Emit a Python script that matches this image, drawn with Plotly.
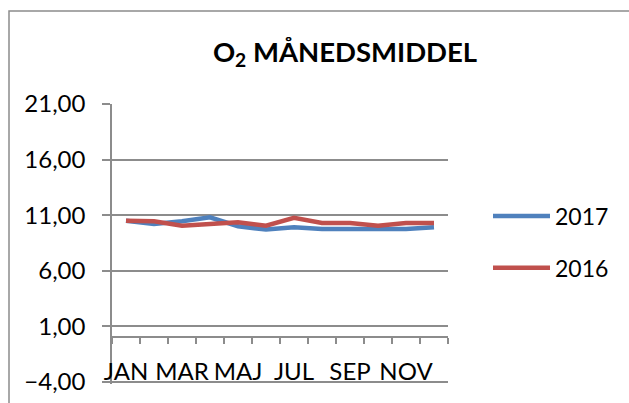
import plotly.graph_objects as go

months = ["JAN", "FEB", "MAR", "APR", "MAJ", "JUN", "JUL", "AUG", "SEP", "OKT", "NOV", "DEC"]
o2_2017 = [10.5, 10.2, 10.45, 10.8, 10.0, 9.7, 9.9, 9.75, 9.75, 9.7, 9.75, 9.9]
o2_2016 = [10.5, 10.45, 10.05, 10.25, 10.35, 10.05, 10.75, 10.3, 10.3, 10.05, 10.3, 10.3]
y_ticks = [-4, 1, 6, 11, 16, 21]

x_idx = list(range(len(months)))
FONT = "Lato, 'Open Sans', sans-serif"
GRAY = "#8c8c8c"

fig = go.Figure()
fig.add_trace(go.Scatter(x=x_idx, y=o2_2017, mode="lines", name="2017",
                         line=dict(color="#4F81BD", width=4.5), legendgroup="a"))
fig.add_trace(go.Scatter(x=x_idx, y=o2_2016, mode="lines", name="2016",
                         line=dict(color="#C0504D", width=4.5), legendgroup="b"))

y_lo, y_hi = y_ticks[0] - 0.2, y_ticks[-1]
fig.update_layout(
    width=629, height=403,
    margin=dict(l=112, r=181, t=104, b=19, autoexpand=False),
    paper_bgcolor="white", plot_bgcolor="white",
    separators=",.",
    font=dict(family=FONT, size=24, color="black"),
    title=dict(text="<b>O<sub>2</sub> MÅNEDSMIDDEL</b>", x=345 / 629, xanchor="center",
               y=1 - 52 / 403, yanchor="middle", font=dict(size=27.5, family=FONT)),
    xaxis=dict(range=[-0.5, len(months) - 0.5], tickmode="array",
               tickvals=x_idx[::2], ticktext=months[::2], ticks="",
               showgrid=False, zeroline=False, showline=True, linecolor=GRAY, linewidth=1.5,
               anchor="free", position=(0 - y_lo) / (y_hi - y_lo), automargin=False,
               ticklabelstandoff=13,
               minor=dict(tickmode="linear", tick0=-0.5, dtick=1, ticks="outside",
                          ticklen=6, tickcolor=GRAY, tickwidth=1.5, showgrid=False),
               fixedrange=True),
    yaxis=dict(range=[y_lo, y_hi], tickmode="array", tickvals=y_ticks, automargin=False,
               tickformat=".2f", ticks="outside", ticklen=8, tickcolor=GRAY, tickwidth=1.5,
               showgrid=True, gridcolor=GRAY, gridwidth=1.5, zeroline=False,
               showline=True, linecolor=GRAY, linewidth=1.5, ticklabelstandoff=12,
               fixedrange=True),
    legend=dict(x=(488 - 112) / 336, xanchor="left", y=(384 - 242) / 280, yanchor="middle",
                font=dict(size=23), tracegroupgap=19, itemwidth=57,
                bgcolor="rgba(0,0,0,0)"),
    shapes=[
        dict(type="rect", xref="paper", yref="paper",
             x0=(9 - 112) / 336, x1=2.0, y0=-0.5, y1=(384 - 11) / 280,
             line=dict(color=GRAY, width=1.5), layer="below"),
        dict(type="line", xref="paper", yref="y", x0=-8 / 336, x1=1,
             y0=y_ticks[0], y1=y_ticks[0], line=dict(color=GRAY, width=1.5), layer="above"),
    ],
)

fig.write_html("out.html", config={"displayModeBar": False},
               post_script="document.body.style.margin='0';")
